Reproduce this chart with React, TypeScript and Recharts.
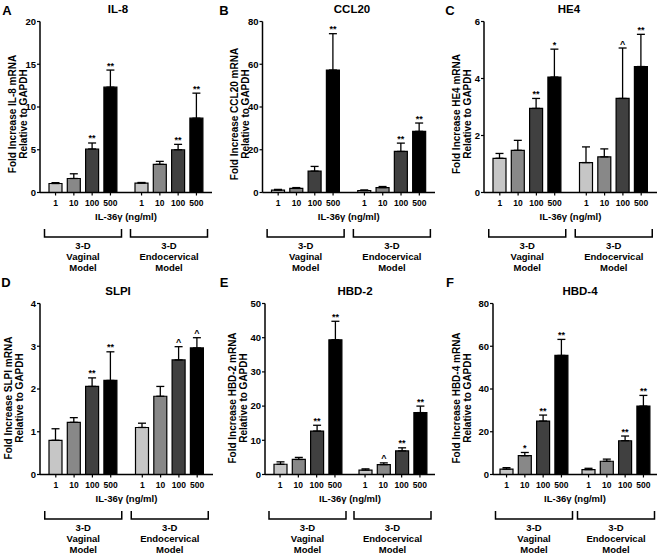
import React from "react";
import { BarChart, Bar, XAxis, YAxis, ErrorBar, LabelList } from "recharts";

const FONT = '"Liberation Sans", Arial, Helvetica, sans-serif';

const DOSES = ["1", "10", "100", "500"];
const DOSE_FILLS = ["#c6c6c6", "#888888", "#404040", "#000000"];
const MODELS = ["Vaginal", "Endocervical"];

// A - IL-8
const IL8_TICKS = [0, 5, 10, 15, 20];
const IL8_VAGINAL = [1.05, 1.64, 5.09, 12.32];
const IL8_VAGINAL_SEM = [0.1, 0.55, 0.7, 2.0];
const IL8_VAGINAL_SIG = ["", "", "**", "**"];
const IL8_ENDO = [1.1, 3.29, 5.0, 8.69];
const IL8_ENDO_SEM = [0.07, 0.35, 0.63, 2.93];
const IL8_ENDO_SIG = ["", "", "**", "**"];

// B - CCL20
const CCL20_TICKS = [0, 20, 40, 60, 80];
const CCL20_VAGINAL = [1.1, 1.9, 10.0, 57.3];
const CCL20_VAGINAL_SEM = [0.35, 0.4, 2.2, 17.0];
const CCL20_VAGINAL_SIG = ["", "", "", "**"];
const CCL20_ENDO = [0.9, 2.3, 19.2, 28.6];
const CCL20_ENDO_SEM = [0.3, 0.5, 3.9, 3.9];
const CCL20_ENDO_SIG = ["", "", "**", "**"];

// C - HE4
const HE4_TICKS = [0, 2, 4, 6];
const HE4_VAGINAL = [1.2, 1.48, 2.95, 4.05];
const HE4_VAGINAL_SEM = [0.17, 0.35, 0.35, 0.98];
const HE4_VAGINAL_SIG = ["", "", "**", "*"];
const HE4_ENDO = [1.05, 1.25, 3.3, 4.42];
const HE4_ENDO_SEM = [0.55, 0.28, 1.77, 1.13];
const HE4_ENDO_SIG = ["", "", "^", "**"];

// D - SLPI
const SLPI_TICKS = [0, 1, 2, 3, 4];
const SLPI_VAGINAL = [0.8, 1.22, 2.06, 2.2];
const SLPI_VAGINAL_SEM = [0.27, 0.11, 0.2, 0.67];
const SLPI_VAGINAL_SIG = ["", "", "**", "**"];
const SLPI_ENDO = [1.1, 1.83, 2.68, 2.96];
const SLPI_ENDO_SEM = [0.1, 0.23, 0.31, 0.24];
const SLPI_ENDO_SIG = ["", "", "^", "^"];

// E - HBD-2
const HBD2_TICKS = [0, 10, 20, 30, 40, 50];
const HBD2_VAGINAL = [3.0, 4.4, 12.7, 39.4];
const HBD2_VAGINAL_SEM = [0.7, 0.6, 1.7, 5.4];
const HBD2_VAGINAL_SIG = ["", "", "**", "**"];
const HBD2_ENDO = [1.3, 2.9, 6.9, 18.1];
const HBD2_ENDO_SEM = [0.35, 0.5, 0.9, 1.9];
const HBD2_ENDO_SIG = ["", "^", "**", "**"];

// F - HBD-4
const HBD4_TICKS = [0, 20, 40, 60, 80];
const HBD4_VAGINAL = [2.5, 8.8, 25.0, 55.7];
const HBD4_VAGINAL_SEM = [0.7, 1.5, 2.8, 7.5];
const HBD4_VAGINAL_SIG = ["", "*", "**", "**"];
const HBD4_ENDO = [2.3, 6.2, 15.8, 32.0];
const HBD4_ENDO_SEM = [0.6, 1.0, 2.2, 5.0];
const HBD4_ENDO_SIG = ["", "", "**", "**"];

const PANELS = [
  { letter: "A", gene: "IL-8", ticks: IL8_TICKS, vag: IL8_VAGINAL, vagSem: IL8_VAGINAL_SEM, vagSig: IL8_VAGINAL_SIG, endo: IL8_ENDO, endoSem: IL8_ENDO_SEM, endoSig: IL8_ENDO_SIG },
  { letter: "B", gene: "CCL20", ticks: CCL20_TICKS, vag: CCL20_VAGINAL, vagSem: CCL20_VAGINAL_SEM, vagSig: CCL20_VAGINAL_SIG, endo: CCL20_ENDO, endoSem: CCL20_ENDO_SEM, endoSig: CCL20_ENDO_SIG },
  { letter: "C", gene: "HE4", ticks: HE4_TICKS, vag: HE4_VAGINAL, vagSem: HE4_VAGINAL_SEM, vagSig: HE4_VAGINAL_SIG, endo: HE4_ENDO, endoSem: HE4_ENDO_SEM, endoSig: HE4_ENDO_SIG },
  { letter: "D", gene: "SLPI", ticks: SLPI_TICKS, vag: SLPI_VAGINAL, vagSem: SLPI_VAGINAL_SEM, vagSig: SLPI_VAGINAL_SIG, endo: SLPI_ENDO, endoSem: SLPI_ENDO_SEM, endoSig: SLPI_ENDO_SIG },
  { letter: "E", gene: "HBD-2", ticks: HBD2_TICKS, vag: HBD2_VAGINAL, vagSem: HBD2_VAGINAL_SEM, vagSig: HBD2_VAGINAL_SIG, endo: HBD2_ENDO, endoSem: HBD2_ENDO_SEM, endoSig: HBD2_ENDO_SIG },
  { letter: "F", gene: "HBD-4", ticks: HBD4_TICKS, vag: HBD4_VAGINAL, vagSem: HBD4_VAGINAL_SEM, vagSig: HBD4_VAGINAL_SIG, endo: HBD4_ENDO, endoSem: HBD4_ENDO_SEM, endoSig: HBD4_ENDO_SIG },
];

// layout of each panel on the page (absolute px)
const LAYOUT = [
  { x: 0, y: 0, axisX: 40, right: 212, titleX: 118, letterX: 7, labelX: [12, 23] },
  { x: 222, y: 0, axisX: 262.5, right: 435, titleX: 352, letterX: 224, labelX: [234, 245] },
  { x: 444, y: 0, axisX: 484, right: 657, titleX: 569, letterX: 450, labelX: [456, 467] },
  { x: 0, y: 282, axisX: 40, right: 213, titleX: 118, letterX: 6, labelX: [8, 19] },
  { x: 222, y: 282, axisX: 265, right: 435, titleX: 355, letterX: 224, labelX: [232, 243] },
  { x: 444, y: 282, axisX: 493, right: 657, titleX: 580, letterX: 450, labelX: [456, 467] },
];

const W = 222;
const H = 275;
const PLOT_TOP = 21.5;
const PLOT_BOTTOM = 192.5;
const X_AXIS_H = 80;
const BAR_SIZE = 13;
const BAR_GAP = 5.3;

function buildRows(p: any) {
  const groups = [
    [p.vag, p.vagSem, p.vagSig],
    [p.endo, p.endoSem, p.endoSig],
  ];
  return MODELS.map((model, g) => {
    const [vals, sems, sigs] = groups[g];
    const row: any = { model };
    DOSES.forEach((_, i) => {
      row[`d${i}`] = vals[i];
      row[`e${i}`] = [0, sems[i]];
      row[`m${i}`] = sems[i];
      row[`s${i}`] = sigs[i];
    });
    return row;
  });
}

function GroupTick(props: any) {
  const { x, y, payload } = props;
  const step = BAR_SIZE + BAR_GAP;
  const txt = { fontFamily: FONT, fontWeight: 700, fill: "#000" };
  return (
    <g>
      {DOSES.map((d, i) => {
        const cx = x + (i - 1.5) * step;
        return (
          <g key={d}>
            <line x1={cx} x2={cx} y1={y} y2={y + 3} stroke="#000" strokeWidth={1.2} />
            <text x={cx} y={y + 10.5} textAnchor="middle" dominantBaseline="central" fontSize={8.5} {...txt}>
              {d}
            </text>
          </g>
        );
      })}
      <path
        d={`M${x - 38.5},${y + 36.5} V${y + 44.5} H${x + 38.5} V${y + 36.5}`}
        fill="none"
        stroke="#000"
        strokeWidth={1.5}
      />
      {["3-D", payload.value, "Model"].map((t, k) => (
        <text key={k} x={x} y={y + 52.5 + k * 11} textAnchor="middle" dominantBaseline="central" fontSize={9.5} {...txt}>
          {t}
        </text>
      ))}
    </g>
  );
}

function SigLabel(props: any) {
  const { value, index, rows, i } = props;
  if (!value) return null;
  const vb = props.viewBox || {};
  const x = vb.x ?? props.x;
  const y = vb.y ?? props.y;
  const width = vb.width ?? props.width;
  const height = vb.height ?? props.height;
  const row = rows[index];
  const capY = y - (row[`m${i}`] * height) / row[`d${i}`];
  return (
    <text x={x + width / 2} y={capY - 1.5} textAnchor="middle" fontSize={9} fontWeight={700} fontFamily={FONT} fill="#000">
      {value}
    </text>
  );
}

function Panel({ p, l }: any) {
  const rows = buildRows(p);
  const max = p.ticks[p.ticks.length - 1];
  return (
    <div style={{ position: "absolute", left: l.x, top: l.y, width: W, height: H }}>
      <BarChart
        width={W}
        height={H}
        data={rows}
        margin={{ top: PLOT_TOP, right: l.x + W - l.right, bottom: H - PLOT_BOTTOM - X_AXIS_H, left: 0 }}
        barSize={BAR_SIZE}
        barGap={BAR_GAP}
        style={{ overflow: "visible" }}
      >
        <XAxis
          dataKey="model"
          height={X_AXIS_H}
          interval={0}
          tickSize={0}
          tickMargin={0}
          tickLine={false}
          axisLine={{ stroke: "#000", strokeWidth: 1.5 }}
          tick={<GroupTick />}
        />
        <YAxis
          width={l.axisX - l.x}
          domain={[0, max]}
          ticks={p.ticks}
          interval={0}
          tickSize={3}
          tickMargin={1}
          axisLine={{ stroke: "#000", strokeWidth: 1.5 }}
          tickLine={{ stroke: "#000", strokeWidth: 1.2 }}
          tick={{ fontSize: 9.5, fontWeight: 700, fill: "#000", fontFamily: FONT }}
        />
        {DOSES.map((d, i) => (
          <Bar key={d} dataKey={`d${i}`} fill={DOSE_FILLS[i]} stroke="#000" strokeWidth={1.2} isAnimationActive={false}>
            <ErrorBar dataKey={`e${i}`} direction="y" width={4} stroke="#000" strokeWidth={1.3} isAnimationActive={false} />
            <LabelList dataKey={`s${i}`} content={<SigLabel rows={rows} i={i} />} />
          </Bar>
        ))}
      </BarChart>
    </div>
  );
}

export default function App() {
  const txt = { fontFamily: FONT, fontWeight: 700, fill: "#000" };
  return (
    <div style={{ position: "absolute", left: 0, top: 0, width: 666, height: 555, overflow: "hidden", background: "#fff" }}>
      {PANELS.map((p, k) => (
        <Panel key={p.letter} p={p} l={LAYOUT[k]} />
      ))}
      <svg width={666} height={555} style={{ position: "absolute", left: 0, top: 0, pointerEvents: "none" }}>
        {PANELS.map((p, k) => {
          const l = LAYOUT[k];
          const top = l.y === 0;
          const labelY = top ? 114 : 398;
          return (
            <g key={p.letter}>
              <text x={l.letterX} y={top ? 10 : 282} textAnchor="middle" dominantBaseline="central" fontSize={13} {...txt}>
                {p.letter}
              </text>
              <text x={l.titleX} y={top ? 9 : 291} textAnchor="middle" dominantBaseline="central" fontSize={11.5} {...txt}>
                {p.gene}
              </text>
              <text
                transform={`translate(${l.labelX[0]},${labelY}) rotate(-90)`}
                textAnchor="middle"
                dominantBaseline="central"
                fontSize={10}
                {...txt}
              >
                Fold Increase {p.gene} mRNA
              </text>
              <text
                transform={`translate(${l.labelX[1]},${labelY}) rotate(-90)`}
                textAnchor="middle"
                dominantBaseline="central"
                fontSize={10}
                {...txt}
              >
                Relative to GAPDH
              </text>
              <text
                x={(l.axisX + l.right) / 2}
                y={l.y + PLOT_BOTTOM + 23.5}
                textAnchor="middle"
                dominantBaseline="central"
                fontSize={9.5}
                {...txt}
              >
                IL-36γ (ng/ml)
              </text>
            </g>
          );
        })}
      </svg>
    </div>
  );
}
